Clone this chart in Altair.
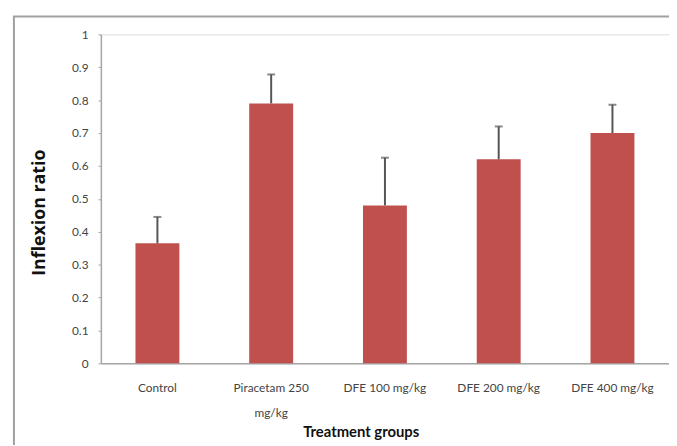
import altair as alt
import pandas as pd

groups = ["Control", "Piracetam 250 mg/kg", "DFE 100 mg/kg", "DFE 200 mg/kg", "DFE 400 mg/kg"]
means = [0.365, 0.79, 0.48, 0.62, 0.70]
errors = [0.08, 0.088, 0.145, 0.10, 0.086]
y_ticks = [0, 0.1, 0.2, 0.3, 0.4, 0.5, 0.6, 0.7, 0.8, 0.9, 1.0]

df = pd.DataFrame({"group": groups, "mean": means, "err": errors})
df["upper"] = df["mean"] + df["err"]

W, H = 575, 333

xscale = alt.Scale(domain=groups, paddingInner=0.614, paddingOuter=0.304)
yscale = alt.Scale(domain=[0, 1], nice=False)

xaxis = alt.Axis(
    title="Treatment groups",
    labelAngle=0,
    labelFont="Lato",
    labelFontSize=12,
    labelColor="#444444",
    labelPadding=20,
    labelLineHeight=25,
    labelBaseline="top",
    labelOverlap=False,
    labelExpr="datum.label == 'Piracetam 250 mg/kg' ? ['Piracetam 250', 'mg/kg'] : datum.label",
    ticks=False,
    domainColor="#a6a6a6",
    domainWidth=1.5,
    titleFont="Lato",
    titleFontSize=15,
    titleFontWeight="bold",
    titleColor="#111111",
    titleX=263,
    titleY=69,
    titleBaseline="middle",
    titleAlign="center",
)

yaxis = alt.Axis(
    title="Inflexion ratio",
    values=y_ticks,
    format="~g",
    grid=False,
    labelOverlap=False,
    labelFont="Lato",
    labelFontSize=12,
    labelColor="#444444",
    labelPadding=10,
    tickSize=3,
    tickColor="#a6a6a6",
    domainColor="#a6a6a6",
    domainWidth=1.5,
    titleFont="Open Sans",
    titleFontSize=18,
    titleFontWeight="bold",
    titleColor="#111111",
    titleAngle=270,
    titleX=-62,
    titleY=180,
    titleAlign="center",
    titleBaseline="middle",
)

base = alt.Chart(df)
X = alt.X("group:N", scale=xscale, axis=xaxis, sort=groups)

bars = base.mark_bar(color="#c0504d").encode(
    x=X,
    y=alt.Y("mean:Q", scale=yscale, axis=yaxis),
)

rules = base.mark_rule(color="#555555", strokeWidth=2).encode(
    x=X,
    y=alt.Y("mean:Q", scale=yscale, axis=yaxis),
    y2="upper:Q",
)

caps = base.mark_tick(color="#555555", thickness=2, size=8).encode(
    x=X,
    y=alt.Y("upper:Q", scale=yscale, axis=yaxis),
)

border = alt.Chart(pd.DataFrame({"k": [0]})).mark_rect(
    fill=None, stroke="#a0a0a0", strokeWidth=2
).encode(
    x=alt.value(-88), x2=alt.value(W + 40),
    y=alt.value(-18), y2=alt.value(H + 120),
)

chart = alt.layer(border, bars, rules, caps).properties(
    width=W,
    height=H,
    autosize=alt.AutoSizeParams(type="none"),
    padding={"left": 94, "top": 24, "right": 0, "bottom": 80},
).configure_view(stroke=None).configure(background="white")

chart.save("out.html", embed_options={"renderer": "svg", "actions": False})
